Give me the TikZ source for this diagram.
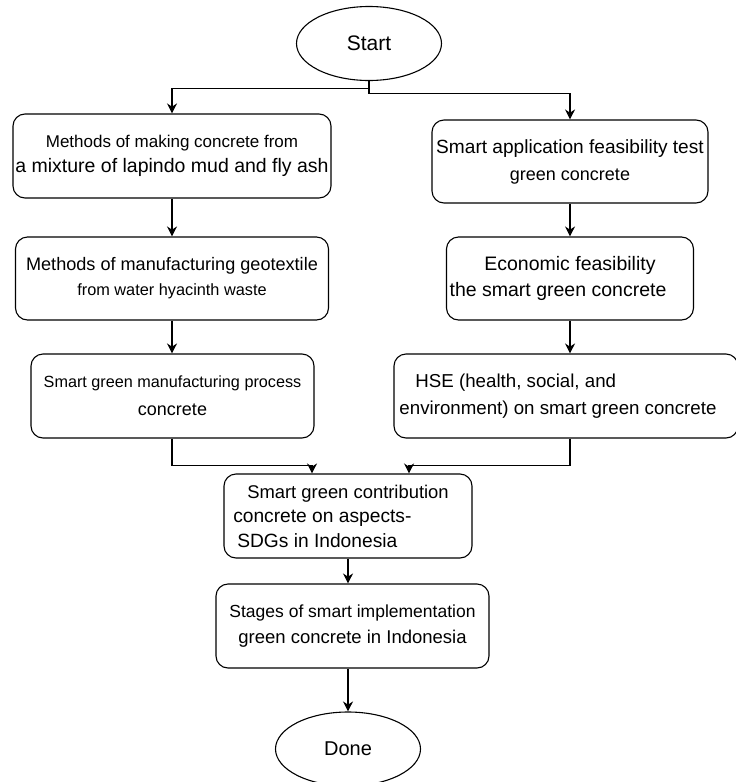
\documentclass[tikz,border=0pt]{standalone}
\usepackage{fontspec}
\setmainfont{Liberation Sans}
\usetikzlibrary{shapes.geometric,arrows.meta}
\newcommand{\boxfont}[2]{\fontsize{#1}{#2}\selectfont}
\begin{document}
\begin{tikzpicture}[x=1pt,y=-1pt,
  box/.style={draw=black, rounded corners=12pt, line width=1.1pt, inner sep=0pt, align=center},
  term/.style={draw=black, ellipse, line width=1.1pt, minimum width=145pt, minimum height=74pt, inner sep=0pt},
  arr/.style={-{Stealth[length=10pt,width=10pt]}, line width=1.1pt}]
\useasboundingbox (0,0) rectangle (736,782);
\node[term, font=\boxfont{21}{25}] (start) at (369,43.5) {Start};
% left column
\node[box, minimum width=318pt, minimum height=84pt, font=\boxfont{19.5}{25}] (m1) at (172,156)
  {\boxfont{17}{25}Methods of making concrete from\\ a mixture of lapindo mud and fly ash};
\node[box, minimum width=313pt, minimum height=83pt, font=\boxfont{16.3}{25}] (m2) at (172,278.5)
  {\boxfont{18.1}{25}Methods of manufacturing geotextile\\ from water hyacinth waste};
\node[box, minimum width=283pt, minimum height=84pt, font=\boxfont{18}{28}] (m3) at (172.5,396)
  {\boxfont{16.2}{28}Smart green manufacturing process\\ concrete};
% right column
\node[box, minimum width=276pt, minimum height=83pt, font=\boxfont{18}{27}] (f1) at (570,161.5)
  {\boxfont{19.1}{27}Smart application feasibility test\\ green concrete};
\node[box, minimum width=247pt, minimum height=83pt, font=\boxfont{19.5}{26}] (f2) at (570,278.5)
  {Economic feasibility\\ the smart green concrete\hspace{24pt}\null};
\node[box, minimum width=344pt, minimum height=84pt, align=left, font=\boxfont{18.7}{27}] (f3) at (566,396)
  {\hspace{16pt}HSE (health, social, and\\ environment) on smart green concrete\hspace{16pt}\null};
% middle
\node[box, minimum width=248pt, minimum height=84pt, align=left, font=\boxfont{19.2}{24.5}] (c1) at (348,516)
  {\boxfont{18.4}{24.5}\hspace{14pt}Smart green contribution\hspace{14pt}\null\\ concrete on aspects-\\ \hspace{4pt}SDGs in Indonesia};
\node[box, minimum width=273pt, minimum height=84pt, font=\boxfont{18.5}{26}] (c2) at (352.5,626)
  {\boxfont{17.5}{26}Stages of smart implementation\\ green concrete in Indonesia};
\node[term, font=\boxfont{20}{24}] (done) at (348,749) {Done};

\draw[arr] (start.south) -- ++(0,7) -| (m1.north);
\draw[arr] (start.south) -- ++(0,12) -| (f1.north);
\draw[arr] (m1.south) -- (m2.north);
\draw[arr] (m2.south) -- (m2.south |- m3.north);
\draw[arr] (f1.south) -- (f2.north);
\draw[arr] (f2.south) -- (f2.south |- f3.north);
\draw[arr] (m1.south |- m3.south) -- ++(0,27) -| ([xshift=-36pt]c1.north);
\draw[arr] (f3.south -| f2.south) -- ++(0,27) -| ([xshift=61pt]c1.north);
\draw[arr] (c1.south) -- (c1.south |- c2.north);
\draw[arr] (c2.south -| c1.south) -- (done.north);
\end{tikzpicture}
\end{document}
